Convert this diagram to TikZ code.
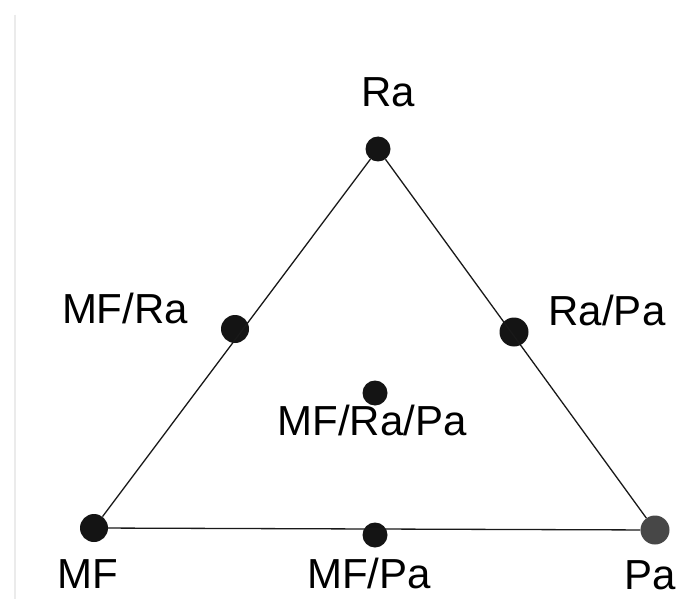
\documentclass[tikz,border=0pt]{standalone}
\usepackage{fontspec}
\setmainfont{Liberation Sans}
\begin{document}
\begin{tikzpicture}[x=1pt,y=-1pt,
  dot/.style={circle,fill=black!92,inner sep=0pt,minimum size=27pt},
  greydot/.style={circle,fill=black!72,inner sep=0pt,minimum size=29pt},
  lbl/.style={anchor=base,inner sep=0pt,font=\fontsize{42}{50}\selectfont},
  edge/.style={draw=black!90,line width=1.3pt}]
\useasboundingbox (0,0) rectangle (680,599);
\fill[white] (0,0) rectangle (680,599);
\draw[black!8,line width=2pt] (15,15) -- (15,599);
% dots
\node[dot,minimum size=25pt] (ra) at (378,149) {};
\node[dot,minimum size=28pt] (mf) at (94,528) {};
\node[greydot] (pa) at (655,530) {};
\node[dot,minimum size=28pt] (mfra) at (235,329) {};
\node[dot,minimum size=29pt] (rapa) at (514,332) {};
\node[dot,minimum size=25pt] (mfrapa) at (375,393) {};
\node[dot,minimum size=25pt] (mfpa) at (375,535) {};
% edges
\draw[edge] (mf) -- (ra);
\draw[edge] (ra) -- (pa);
\draw[edge] (mf) -- (pa);
% labels
\node[lbl] (lra) at (388,107) {Ra};
\node[lbl] (lmfra) at (125,323) {MF/Ra};
\node[lbl] (lrapa) at (607,325) {Ra/Pa};
\node[lbl] (lmfrapa) at (372,435) {MF/Ra/Pa};
\node[lbl] (lmf) at (88,588) {MF};
\node[lbl] (lmfpa) at (369,588) {MF/Pa};
\node[lbl] (lpa) at (650,589) {Pa};
\end{tikzpicture}
\end{document}
